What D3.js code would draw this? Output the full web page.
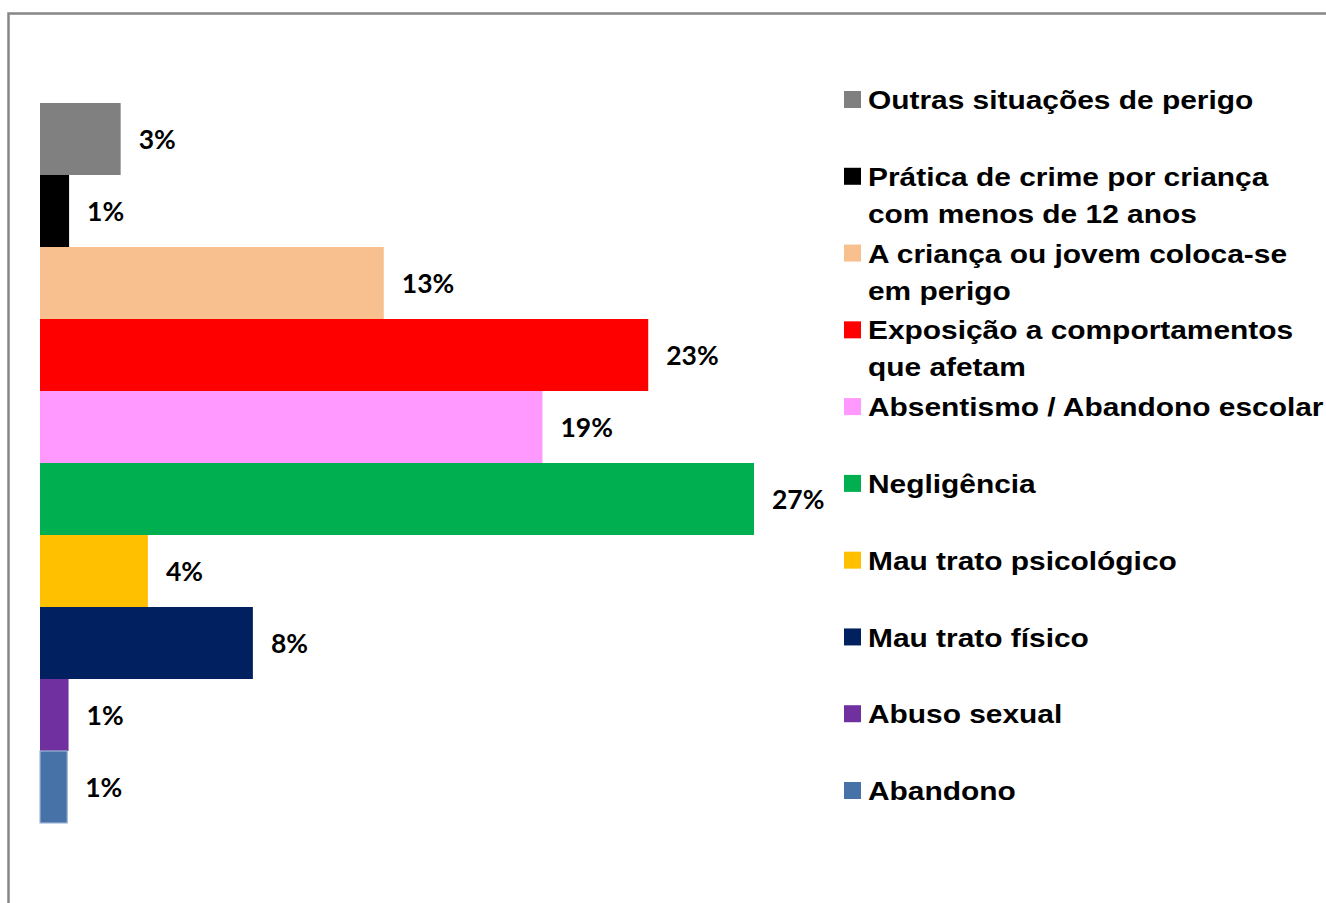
<!DOCTYPE html>
<html>
<head>
<meta charset="utf-8">
<script src="https://cdn.jsdelivr.net/npm/d3@7"></script>
<style>
  body { margin: 0; background: white; }
</style>
</head>
<body>
<script>
// categories, top bar first
var categories = [
  "Outras situações de perigo",
  "Prática de crime por criança\ncom menos de 12 anos",
  "A criança ou jovem coloca-se\nem perigo",
  "Exposição a comportamentos\nque afetam",
  "Absentismo / Abandono escolar",
  "Negligência",
  "Mau trato psicológico",
  "Mau trato físico",
  "Abuso sexual",
  "Abandono"
]
var values = [3.05, 1.1, 13.0, 23.0, 19.0, 27.0, 4.08, 8.05, 1.08, 1.03]
var labels = ["3%", "1%", "13%", "23%", "19%", "27%", "4%", "8%", "1%", "1%"]
var colors = ["#808080", "#000000", "#F9C08F", "#FF0000", "#FF99FF",
              "#00B050", "#FFC000", "#002060", "#7030A0", "#4672A8"]

var svg = d3.select("body")
    .append("svg")
    .attr("width", 1326)
    .attr("height", 903)

// outer chart border (runs off the bottom and right edge)
svg.append("rect")
    .attr("x", 8.5)
    .attr("y", 13.5)
    .attr("width", 1340)
    .attr("height", 920)
    .attr("fill", "none")
    .attr("stroke", "#878787")
    .attr("stroke-width", 2.5)

var plot = svg.append("g")
    .attr("transform", "translate(40,0)")

var xScale = d3.scaleLinear()
    .domain([0, 27])
    .range([0, 714])
var yScale = d3.scaleBand()
    .domain(categories)
    .range([103, 823])
    .padding(0)

plot.selectAll("rect.bar")
    .data(categories)
    .enter()
    .append("rect")
    .attr("class", "bar")
    .attr("x", xScale(0))
    .attr("y", d => yScale(d))
    .attr("width", (d, i) => xScale(values[i]) - xScale(0))
    .attr("height", yScale.bandwidth())
    .attr("fill", (d, i) => colors[i])
    .attr("stroke", (d, i) => i == 9 ? "#9fb6d6" : "none")
    .attr("stroke-width", 1.2)

plot.selectAll("text.val")
    .data(categories)
    .enter()
    .append("text")
    .attr("class", "val")
    .attr("x", (d, i) => xScale(values[i]) + 18)
    .attr("y", d => yScale(d) + yScale.bandwidth() / 2)
    .attr("dy", "0.37em")
    .attr("font-family", "Lato, 'DejaVu Sans', sans-serif")
    .attr("font-weight", "bold")
    .attr("font-size", "26.5px")
    .attr("fill", "#000")
    .text((d, i) => labels[i])

// legend
var legendY = d3.scalePoint()
    .domain(categories)
    .range([100, 791])

var legend = svg.append("g")
    .attr("transform", "translate(844,0)")

var items = legend.selectAll("g.item")
    .data(categories)
    .enter()
    .append("g")
    .attr("class", "item")
    .attr("transform", d => "translate(0," + legendY(d) + ")")

items.append("rect")
    .attr("x", 0)
    .attr("y", -9)
    .attr("width", 17)
    .attr("height", 17)
    .attr("fill", (d, i) => colors[i])

// the original text is a bit stretched sideways
items.append("g")
    .attr("transform", "translate(24,0) scale(1.15,1)")
    .append("text")
    .attr("font-family", "'Liberation Sans', Arial, sans-serif")
    .attr("font-weight", "bold")
    .attr("font-size", "26px")
    .attr("fill", "#000")
    .selectAll("tspan")
    .data(d => d.split("\n"))
    .enter()
    .append("tspan")
    .attr("x", 0)
    .attr("y", (d, i) => i * 37)
    .attr("dy", "0.35em")
    .text(d => d)
</script>
</body>
</html>
